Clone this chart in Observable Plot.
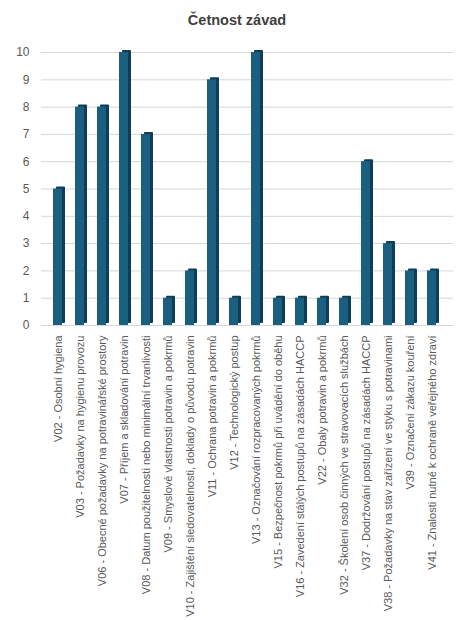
<!DOCTYPE html>
<html>
<head>
<meta charset="utf-8">
<script src="https://cdn.jsdelivr.net/npm/d3@7"></script>
<script src="https://cdn.jsdelivr.net/npm/@observablehq/plot@0.6"></script>
<style>
  body { margin: 0; background: #fff; font-family: "Liberation Sans", Arial, sans-serif; }
  #wrap { width: 474px; }
  #titulek { height: 36px; line-height: 40px; text-align: center; font-size: 14.5px; font-weight: bold; color: #404040; }
</style>
</head>
<body>
<div id="wrap">
  <div id="titulek">Četnost závad</div>
  <div id="graf"></div>
</div>
<script>
const kategorie = [
  "V02 - Osobní hygiena",
  "V03 - Požadavky na hygienu provozu",
  "V06 - Obecné požadavky na potravinářské prostory",
  "V07 - Příjem a skladování potravin",
  "V08 - Datum použitelnosti nebo minimální trvanlivosti",
  "V09 - Smyslové vlastnosti potravin a pokrmů",
  "V10 - Zajištění sledovatelnosti, doklady o původu potravin",
  "V11 - Ochrana potravin a pokrmů",
  "V12 - Technologický postup",
  "V13 - Označování rozpracovaných pokrmů",
  "V15 - Bezpečnost pokrmů při uvádění do oběhu",
  "V16 - Zavedení stálých postupů na zásadách HACCP",
  "V22 - Obaly potravin a pokrmů",
  "V32 - Školení osob činných ve stravovacích službách",
  "V37 - Dodržování postupů na zásadách HACCP",
  "V38 - Požadavky na stav zařízení ve styku s potravinami",
  "V39 - Označení zákazu kouření",
  "V41 - Znalosti nutné k ochraně veřejného zdraví"
];
const pocty = [5, 8, 8, 10, 7, 1, 2, 9, 1, 10, 1, 1, 1, 1, 6, 3, 2, 2];
const osaY = [0, 1, 2, 3, 4, 5, 6, 7, 8, 9, 10];

const data = kategorie.map((k, i) => ({ k, n: pocty[i] }));

const plot = Plot.plot({
  width: 474,
  height: 584,
  marginTop: 16,
  marginRight: 26,
  marginBottom: 295,
  marginLeft: 41,
  style: { fontFamily: "Liberation Sans, Arial, sans-serif", color: "#595959", background: "#fff", fontSize: "11px" },
  x: { domain: kategorie, paddingInner: 0.6, paddingOuter: 0.3, label: null },
  y: { domain: [0, 10], label: null },
  marks: [
    Plot.ruleY(osaY, { stroke: "#d6d6d6", strokeWidth: 1, insetRight: -5 }),
    Plot.axisY(osaY, { tickSize: 0, tickPadding: 12, fontSize: 12, fill: "#595959" }),
    Plot.axisX({ tickSize: 0, tickPadding: 10, tickRotate: -90, fontSize: 11, fill: "#595959" }),
    // bocni stena sloupce (3D)
    Plot.barY(data, { x: "k", y: "n", fill: "#0e3d55", dx: 3, dy: -2, rx: 1 }),
    Plot.barY(data, { x: "k", y: "n", fill: "#1b5f80" })
  ]
});

document.querySelector("#graf").appendChild(plot);
</script>
</body>
</html>
